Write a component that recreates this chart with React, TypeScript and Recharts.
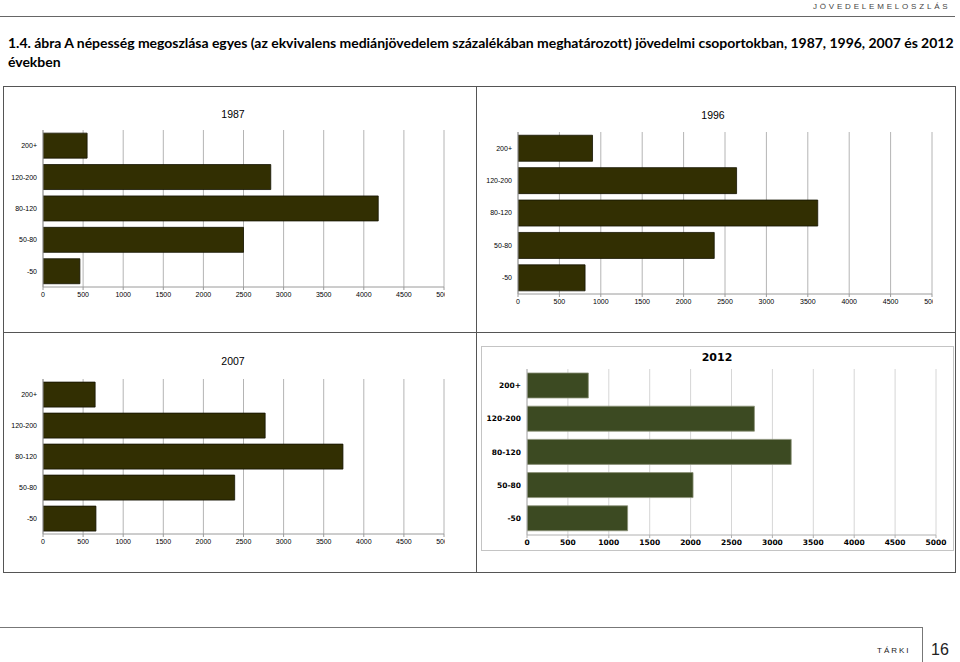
import React from "react";
import { BarChart, Bar, XAxis, YAxis, CartesianGrid } from "recharts";

const groups = ["200+", "120-200", "80-120", "50-80", "-50"];
const values1987 = [550, 2840, 4180, 2500, 460];
const values1996 = [900, 2640, 3620, 2370, 810];
const values2007 = [650, 2770, 3740, 2390, 660];
const values2012 = [750, 2780, 3230, 2030, 1230];
const xTicks = [0, 500, 1000, 1500, 2000, 2500, 3000, 3500, 4000, 4500, 5000];

type Box = { x: number; y: number; w: number; h: number };
type Plot = { l: number; t: number; r: number; b: number };

type PanelProps = {
  values: number[];
  box: Box;
  plot: Plot;
  fill: string;
  stroke: string;
  gridColor: string;
  axisColor: string;
  font: string;
  fontSize: number;
  fontWeight?: string;
  gap: string;
  xAxisHeight: number;
};

function Panel({ values, box, plot, fill, stroke, gridColor, axisColor, font, fontSize, fontWeight = "normal", gap, xAxisHeight }: PanelProps) {
  const data = groups.map((g, i) => ({ group: g, value: values[i] }));
  const yAxisWidth = 30;
  const margin = {
    left: plot.l - box.x - yAxisWidth,
    top: plot.t - box.y,
    right: box.x + box.w - plot.r,
    bottom: box.y + box.h - plot.b - xAxisHeight,
  };
  const tick = { fontFamily: font, fontSize, fontWeight, fill: "#000" };
  return (
    <div style={{ position: "absolute", left: box.x, top: box.y }}>
      <BarChart width={box.w} height={box.h} data={data} layout="vertical" margin={margin} barCategoryGap={gap}>
        <CartesianGrid horizontal={false} stroke={gridColor} strokeWidth={1} />
        <XAxis
          type="number"
          domain={[0, 5000]}
          ticks={xTicks}
          interval={0}
          height={xAxisHeight}
          tick={tick}
          tickSize={3}
          tickMargin={2}
          stroke={axisColor}
          allowDataOverflow
        />
        <YAxis
          type="category"
          dataKey="group"
          width={yAxisWidth}
          tick={tick}
          tickLine={false}
          tickSize={3}
          tickMargin={3}
          stroke={axisColor}
        />
        <Bar dataKey="value" fill={fill} stroke={stroke} strokeWidth={0.8} isAnimationActive={false} />
      </BarChart>
    </div>
  );
}

const abs = (x: number, y: number, extra: React.CSSProperties = {}): React.CSSProperties => ({
  position: "absolute",
  left: x,
  top: y,
  ...extra,
});

export default function App() {
  const oldStyle = {
    fill: "#322f02",
    stroke: "#141300",
    gridColor: "#b4b4b4",
    axisColor: "#9a9a9a",
    font: "Liberation Sans",
    fontSize: 7,
    gap: "10%",
    xAxisHeight: 20,
  };
  const yearTitle = (text: string, x: number, y: number, bold = false) => (
    <div
      style={abs(x, y, {
        transform: "translate(-50%, -50%)",
        fontFamily: bold ? "DejaVu Sans" : "Liberation Sans",
        fontWeight: bold ? "bold" : "normal",
        fontSize: bold ? 11 : 10.5,
        color: "#000",
        whiteSpace: "nowrap",
      })}
    >
      {text}
    </div>
  );
  return (
    <div style={{ position: "absolute", left: 0, top: 0, width: 960, height: 662, overflow: "hidden", background: "#fff" }}>
      {/* header */}
      <div style={abs(813, 2, { fontFamily: "Liberation Sans", fontSize: 8, letterSpacing: 2.8, color: "#444", whiteSpace: "nowrap" })}>
        JÖVEDELEMELOSZLÁS
      </div>
      <div style={abs(0, 16, { width: 955, height: 1, background: "#666" })} />
      <div
        style={abs(8, 33, {
          fontFamily: "Lato",
          fontWeight: "bold",
          fontSize: 14,
          letterSpacing: -0.03,
          lineHeight: "19px",
          color: "#000",
          whiteSpace: "nowrap",
        })}
      >
        1.4. ábra A népesség megoszlása egyes (az ekvivalens mediánjövedelem százalékában meghatározott) jövedelmi csoportokban, 1987, 1996, 2007 és 2012
        <br />
        években
      </div>

      {/* frame */}
      <div style={abs(3, 86, { width: 951, height: 485, border: "1px solid #555" })} />
      <div style={abs(476, 86, { width: 1, height: 487, background: "#555" })} />
      <div style={abs(3, 332, { width: 952, height: 1, background: "#555" })} />
      <div style={abs(481, 346, { width: 471, height: 203, border: "1px solid #c4c4c4" })} />

      {yearTitle("1987", 233, 114)}
      {yearTitle("1996", 713, 115)}
      {yearTitle("2007", 233, 361)}
      {yearTitle("2012", 717, 357, true)}

      <Panel values={values1987} box={{ x: 0, y: 100, w: 445, h: 207 }} plot={{ l: 43, t: 130, r: 444, b: 287 }} {...oldStyle} />
      <Panel values={values1996} box={{ x: 480, y: 100, w: 453, h: 214 }} plot={{ l: 518, t: 132, r: 932, b: 294 }} {...oldStyle} />
      <Panel values={values2007} box={{ x: 0, y: 350, w: 445, h: 204 }} plot={{ l: 43, t: 379, r: 444, b: 534 }} {...oldStyle} />
      <Panel
        values={values2012}
        box={{ x: 482, y: 347, w: 470, h: 203 }}
        plot={{ l: 527, t: 369, r: 936, b: 535 }}
        fill="#3c4a22"
        stroke="#8c9278"
        gridColor="#d6d6d6"
        axisColor="#b0b0b0"
        font="DejaVu Sans"
        fontSize={7.5}
        fontWeight="bold"
        gap="12%"
        xAxisHeight={15}
      />

      {/* footer */}
      <div style={abs(0, 627, { width: 922, height: 1, background: "#777" })} />
      <div style={abs(922, 627, { width: 1, height: 35, background: "#777" })} />
      <div style={abs(877, 646, { fontFamily: "Liberation Sans", fontSize: 8, letterSpacing: 2, color: "#222", whiteSpace: "nowrap" })}>
        TÁRKI
      </div>
      <div style={abs(931, 641, { fontFamily: "Liberation Sans", fontSize: 16, color: "#222", whiteSpace: "nowrap" })}>16</div>
    </div>
  );
}
